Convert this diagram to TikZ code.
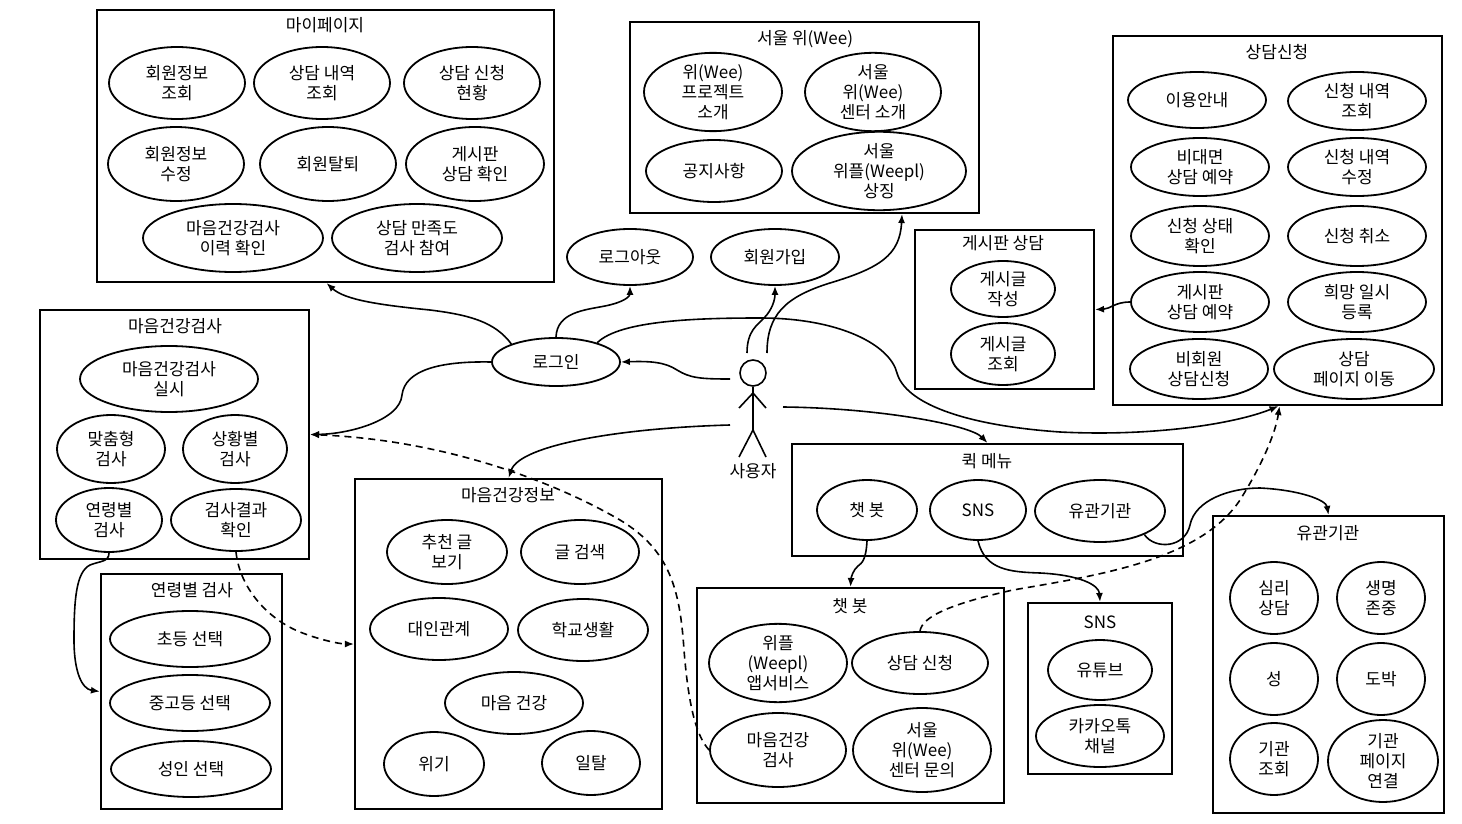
\documentclass[tikz,border=0pt]{standalone}
\usepackage{fontspec}
\setmainfont{Noto Sans CJK KR}
\usetikzlibrary{shapes.geometric,arrows.meta,calc}
\newcommand\ufont{\fontsize{17}{20}\selectfont}
\tikzset{
  uc/.style={ellipse, draw, line width=1.8pt, inner sep=0pt, align=center, font=\ufont},
  sysbox/.style={draw, line width=2.1pt, inner sep=0pt},
  ttl/.style={font=\ufont, inner sep=0pt},
  conn/.style={line width=1.6pt, -{Latex[length=9pt,width=7pt]}},
  dconn/.style={conn, dash pattern=on 7pt off 5pt},
  stick/.style={line width=1.6pt},
}
\newcommand\UC[6]{\node[uc, minimum width={2*#4}, minimum height={2*#5}] (#1) at (#2,#3) {#6};}
\begin{document}
\begin{tikzpicture}[x=1pt,y=-1pt]
\useasboundingbox (0,0) rectangle (1462,824);
\fill[white] (0,0) rectangle (1462,824);

% ---------- system boxes ----------
\node[sysbox, minimum width=457, minimum height=272] (mypage) at (325.5,146) {};
\node[ttl] (mypaget) at (325,25) {마이페이지};
\node[sysbox, minimum width=349, minimum height=191] (wee) at (804.5,117.5) {};
\node[ttl] (weet) at (805,39) {서울 위(Wee)};
\node[sysbox, minimum width=329, minimum height=369] (sangdam) at (1277.5,220.5) {};
\node[ttl] (sangdamt) at (1277,52) {상담신청};
\node[sysbox, minimum width=179, minimum height=159] (board) at (1004.5,309.5) {};
\node[ttl] (boardt) at (1003,243) {게시판 상담};
\node[sysbox, minimum width=269, minimum height=249] (mhtest) at (174.5,434.5) {};
\node[ttl] (mhtestt) at (175,326) {마음건강검사};
\node[sysbox, minimum width=181, minimum height=235] (age) at (191.5,691.5) {};
\node[ttl] (aget) at (192,590) {연령별 검사};
\node[sysbox, minimum width=307, minimum height=330] (mhinfo) at (508.5,644) {};
\node[ttl] (mhinfot) at (508,495) {마음건강정보};
\node[sysbox, minimum width=391, minimum height=112] (quick) at (987.5,500) {};
\node[ttl] (quickt) at (987,461) {퀵 메뉴};
\node[sysbox, minimum width=307, minimum height=215] (chatbot) at (850.5,695.5) {};
\node[ttl] (chatbott) at (850,606) {챗 봇};
\node[sysbox, minimum width=144, minimum height=171] (sns) at (1100,688.5) {};
\node[ttl] (snst) at (1100,622) {SNS};
\node[sysbox, minimum width=231, minimum height=297] (inst) at (1328.5,664.5) {};
\node[ttl] (instt) at (1328,533) {유관기관};

% ---------- use cases ----------
\UC{a1}{177}{83}{68}{36}{회원정보\\조회}
\UC{a2}{322}{83}{68}{36}{상담 내역\\조회}
\UC{a3}{472}{83}{68}{36}{상담 신청\\현황}
\UC{a4}{176}{164}{68}{37}{회원정보\\수정}
\UC{a5}{328}{164}{68}{37}{회원탈퇴}
\UC{a6}{475}{164}{69}{37}{게시판\\상담 확인}
\UC{a7}{233}{238}{90}{34}{마음건강검사\\이력 확인}
\UC{a8}{417}{238}{85}{34}{상담 만족도\\검사 참여}

\UC{b1}{713}{92}{69}{37}{위(Wee)\\프로젝트\\소개}
\UC{b2}{873}{92}{68}{37}{서울\\위(Wee)\\센터 소개}
\UC{b3}{714}{171}{68}{31}{공지사항}
\UC{b4}{879}{171}{87}{37}{서울\\위플(Weepl)\\상징}

\UC{c1}{1197}{100}{69}{28}{이용안내}
\UC{c2}{1357}{101}{69}{29}{신청 내역\\조회}
\UC{c3}{1200}{167}{69}{29}{비대면\\상담 예약}
\UC{c4}{1357}{167}{69}{29}{신청 내역\\수정}
\UC{c5}{1200}{236}{69}{30}{신청 상태\\확인}
\UC{c6}{1357}{236}{69}{30}{신청 취소}
\UC{c7}{1200}{302}{69}{30}{게시판\\상담 예약}
\UC{c8}{1357}{302}{69}{30}{희망 일시\\등록}
\UC{c9}{1199}{369}{69}{30}{비회원\\상담신청}
\UC{c10}{1354}{369}{80}{30}{상담\\페이지 이동}

\UC{d1}{1003}{289}{52}{28}{게시글\\작성}
\UC{d2}{1003}{354}{52}{31}{게시글\\조회}

\UC{login}{556}{362}{64}{24}{로그인}
\UC{logout}{630}{257}{63}{28}{로그아웃}
\UC{join}{775}{257}{64}{28}{회원가입}

\UC{e1}{169}{379}{89}{33}{마음건강검사\\실시}
\UC{e2}{111}{449}{54}{34}{맞춤형\\검사}
\UC{e3}{235}{449}{52}{34}{상황별\\검사}
\UC{e4}{109}{520}{53}{32}{연령별\\검사}
\UC{e5}{236}{520}{65}{31}{검사결과\\확인}

\UC{f1}{190}{639}{80}{28}{초등 선택}
\UC{f2}{190}{703}{80}{28}{중고등 선택}
\UC{f3}{191}{769}{80}{28}{성인 선택}

\UC{g1}{447}{552}{60}{32}{추천 글\\보기}
\UC{g2}{580}{552}{59}{32}{글 검색}
\UC{g3}{439}{629}{69}{31}{대인관계}
\UC{g4}{583}{630}{65}{31}{학교생활}
\UC{g5}{514}{703}{69}{31}{마음 건강}
\UC{g6}{434}{764}{50}{32}{위기}
\UC{g7}{591}{763}{49}{32}{일탈}

\UC{h1}{867}{510}{50}{30}{챗 봇}
\UC{h2}{978}{510}{48}{30}{SNS}
\UC{h3}{1100}{511}{65}{31}{유관기관}

\UC{i1}{778}{663}{69}{35}{위플\\(Weepl)\\앱서비스}
\UC{i2}{920}{663}{68}{31}{상담 신청}
\UC{i3}{778}{750}{68}{37}{마음건강\\검사}
\UC{i4}{922}{750}{69}{42}{서울\\위(Wee)\\센터 문의}

\UC{j1}{1100}{670}{52}{30}{유튜브}
\UC{j2}{1100}{736}{64}{31}{카카오톡\\채널}

\UC{k1}{1274}{598}{44}{36}{심리\\상담}
\UC{k2}{1381}{598}{44}{36}{생명\\존중}
\UC{k3}{1274}{679}{44}{36}{성}
\UC{k4}{1381}{679}{44}{36}{도박}
\UC{k5}{1274}{759}{44}{36}{기관\\조회}
\UC{k6}{1383}{761}{55}{41}{기관\\페이지\\연결}

% ---------- actor ----------
\node[circle, draw, stick, minimum size=26pt, inner sep=0pt] (head) at (753,373) {};
\coordinate (neck) at (753,393);
\coordinate (hip) at (753,430);
\draw[stick] (head.south) -- (hip);
\draw[stick] (739,408) -- (neck) -- (766,408);
\draw[stick] (739,457) -- (hip) -- (766,457);
\node[ttl] (userlabel) at (753,471) {사용자};
\coordinate (uL1) at (730,379);
\coordinate (uL2) at (730,425);
\coordinate (uR) at (783,407);
\coordinate (uT1) at (747,353);
\coordinate (uT2) at (767,353);

% ---------- connectors ----------
\draw[conn] (uL1) .. controls (700,379) and (690,378) .. (677,370)
                  .. controls (665,362) and (650,361) .. (login.east);
\draw[conn] (login.north) .. controls (557,312) and (585,310) .. (605,306)
                  .. controls (625,302) and (630,296) .. (logout.south);
\draw[conn] (login.158) .. controls (495,322) and (470,315) .. (430,310)
                  .. controls (380,305) and (345,300) .. ($(mypage.south)+(1,0)$);
\draw[conn] (login.west) .. controls (440,361) and (405,370) .. (402,395)
                  .. controls (400,420) and (350,434) .. (mhtest.east);
\draw[conn] (login.25) .. controls (620,320) and (700,318) .. (760,318)
                  .. controls (840,318) and (890,345) .. (897,373)
                  .. controls (905,402) and (960,425) .. (1060,432)
                  .. controls (1160,437) and (1240,422) .. ($(sangdam.south)+(1,0)$);
\draw[conn] (uT1) .. controls (747,330) and (758,325) .. (764,318)
                  .. controls (772,310) and (775,300) .. (join.south);
\draw[conn] (uT2) .. controls (767,315) and (785,297) .. (830,283)
                  .. controls (880,268) and (900,255) .. ($(wee.south)+(97.5,0)$);
\draw[conn] (uL2) .. controls (620,428) and (520,445) .. (mhinfo.north);
\draw[conn] (uR) .. controls (880,408) and (970,425) .. (quick.north);
\draw[conn] (h1.south) .. controls (866,560) and (862,563) .. (858,566)
                  .. controls (853,570) and (851,578) .. (chatbot.north);
\draw[conn] (h2.south) .. controls (985,570) and (1010,572) .. (1040,573)
                  .. controls (1080,575) and (1099,585) .. (sns.north);
\draw[conn] (h3.-28) .. controls (1155,550) and (1185,548) .. (1190,525)
                  .. controls (1195,500) and (1230,488) .. (1260,488)
                  .. controls (1300,490) and (1326,500) .. (inst.north);
\draw[conn] (c7.west) .. controls (1115,302) and (1110,309) .. (board.east);
\draw[conn] (e4.south) .. controls (109,562) and (100,561) .. (90,565)
                  .. controls (76,572) and (74,600) .. (74,640)
                  .. controls (74,672) and (82,689) .. (age.west);
\draw[dconn] (e5.south) .. controls (240,590) and (270,620) .. (300,632)
                  .. controls (320,640) and (340,644) .. (mhinfo.west);
\draw[dconn] (i2.north) .. controls (922,618) and (945,605) .. (1013,590)
                  .. controls (1100,575) and (1200,560) .. (1240,500)
                  .. controls (1265,460) and (1276,430) .. ($(sangdam.south)+(2,0)$);
\draw[dconn] (i3.west) .. controls (695,735) and (688,700) .. (684,650)
                  .. controls (680,590) and (670,550) .. (620,520)
                  .. controls (560,485) and (450,440) .. (mhtest.east);
\end{tikzpicture}
\end{document}
